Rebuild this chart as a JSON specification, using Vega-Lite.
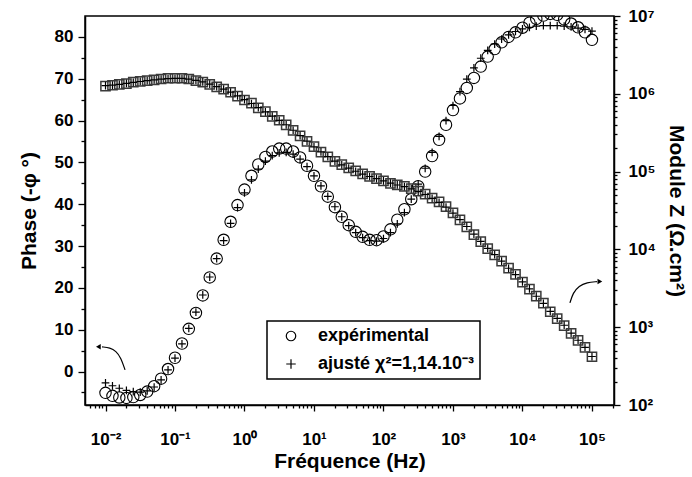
{
  "$schema": "https://vega.github.io/schema/vega-lite/v6.json",
  "width": 529,
  "height": 389,
  "autosize": "none",
  "padding": {"left": 85, "top": 16, "right": 78, "bottom": 72},
  "background": "white",
  "config": {
    "view": {"stroke": "black", "strokeWidth": 1.5},
    "font": "Liberation Sans",
    "axis": {
      "domainColor": "black", "domainWidth": 1.5, "tickColor": "black", "tickWidth": 1.3,
      "labelFont": "Liberation Sans", "labelFontWeight": "bold", "labelFontSize": 17, "labelColor": "black",
      "titleFont": "Liberation Sans", "titleFontWeight": "bold", "titleFontSize": 21, "titleColor": "black",
      "grid": false, "labelOverlap": false, "labelFlush": false, "labelBound": false
    },
    "legend": {"strokeWidth": 1.5}
  },
  "datasets": {
    "bode": [
      {"src":"exp","f":0.01,"ph":-5.1,"z":1259000},
      {"src":"exp","f":0.0126,"ph":-5.8,"z":1288000},
      {"src":"exp","f":0.0158,"ph":-6.2,"z":1318000},
      {"src":"exp","f":0.02,"ph":-6.3,"z":1349000},
      {"src":"exp","f":0.0251,"ph":-6.1,"z":1413000},
      {"src":"exp","f":0.0316,"ph":-5.6,"z":1445000},
      {"src":"exp","f":0.0398,"ph":-4.8,"z":1479000},
      {"src":"exp","f":0.0501,"ph":-3.5,"z":1514000},
      {"src":"exp","f":0.0631,"ph":-1.7,"z":1549000},
      {"src":"exp","f":0.0794,"ph":0.6,"z":1585000},
      {"src":"exp","f":0.1,"ph":3.3,"z":1585000},
      {"src":"exp","f":0.126,"ph":6.7,"z":1585000},
      {"src":"exp","f":0.158,"ph":10.2,"z":1549000},
      {"src":"exp","f":0.2,"ph":14.0,"z":1479000},
      {"src":"exp","f":0.251,"ph":18.2,"z":1413000},
      {"src":"exp","f":0.316,"ph":22.5,"z":1318000},
      {"src":"exp","f":0.398,"ph":27.0,"z":1230000},
      {"src":"exp","f":0.501,"ph":31.5,"z":1148000},
      {"src":"exp","f":0.631,"ph":35.8,"z":1047000},
      {"src":"exp","f":0.794,"ph":39.8,"z":933000},
      {"src":"exp","f":1,"ph":43.5,"z":832000},
      {"src":"exp","f":1.26,"ph":46.8,"z":759000},
      {"src":"exp","f":1.58,"ph":49.5,"z":661000},
      {"src":"exp","f":2,"ph":51.3,"z":589000},
      {"src":"exp","f":2.51,"ph":52.6,"z":513000},
      {"src":"exp","f":3.16,"ph":53.3,"z":457000},
      {"src":"exp","f":3.98,"ph":53.3,"z":398000},
      {"src":"exp","f":5.01,"ph":52.6,"z":339000},
      {"src":"exp","f":6.31,"ph":51.2,"z":288000},
      {"src":"exp","f":7.94,"ph":49.2,"z":245000},
      {"src":"exp","f":10,"ph":46.8,"z":209000},
      {"src":"exp","f":12.6,"ph":44.3,"z":178000},
      {"src":"exp","f":15.8,"ph":41.8,"z":155000},
      {"src":"exp","f":20,"ph":39.3,"z":135000},
      {"src":"exp","f":25.1,"ph":37.0,"z":123000},
      {"src":"exp","f":31.6,"ph":35.0,"z":112000},
      {"src":"exp","f":39.8,"ph":33.4,"z":102000},
      {"src":"exp","f":50.1,"ph":32.2,"z":93300},
      {"src":"exp","f":63.1,"ph":31.5,"z":87100},
      {"src":"exp","f":79.4,"ph":31.4,"z":81300},
      {"src":"exp","f":100,"ph":32.3,"z":75900},
      {"src":"exp","f":126,"ph":34.0,"z":70800},
      {"src":"exp","f":158,"ph":36.3,"z":67600},
      {"src":"exp","f":200,"ph":38.8,"z":64600},
      {"src":"exp","f":251,"ph":41.2,"z":60300},
      {"src":"exp","f":316,"ph":44.3,"z":56200},
      {"src":"exp","f":398,"ph":47.8,"z":51300},
      {"src":"exp","f":501,"ph":51.5,"z":45700},
      {"src":"exp","f":631,"ph":55.4,"z":40700},
      {"src":"exp","f":794,"ph":59.0,"z":35500},
      {"src":"exp","f":1000,"ph":62.5,"z":29500},
      {"src":"exp","f":1260,"ph":65.3,"z":24000},
      {"src":"exp","f":1580,"ph":67.8,"z":19500},
      {"src":"exp","f":2000,"ph":70.2,"z":15500},
      {"src":"exp","f":2510,"ph":72.9,"z":12600},
      {"src":"exp","f":3160,"ph":75.3,"z":10200},
      {"src":"exp","f":3980,"ph":77.1,"z":8510},
      {"src":"exp","f":5010,"ph":78.7,"z":7080},
      {"src":"exp","f":6310,"ph":80.0,"z":5750},
      {"src":"exp","f":7940,"ph":81.1,"z":4790},
      {"src":"exp","f":10000,"ph":82.2,"z":3800},
      {"src":"exp","f":12600,"ph":83.4,"z":3090},
      {"src":"exp","f":15800,"ph":84.3,"z":2510},
      {"src":"exp","f":20000,"ph":85.1,"z":2040},
      {"src":"exp","f":25100,"ph":85.5,"z":1580},
      {"src":"exp","f":31600,"ph":85.3,"z":1290},
      {"src":"exp","f":39800,"ph":84.2,"z":1050},
      {"src":"exp","f":50100,"ph":83.2,"z":832},
      {"src":"exp","f":63100,"ph":82.3,"z":676},
      {"src":"exp","f":79400,"ph":81.1,"z":550},
      {"src":"exp","f":100000,"ph":79.3,"z":417},
      {"src":"fit","f":0.01,"ph":-2.7,"z":1270000},
      {"src":"fit","f":0.0126,"ph":-3.4,"z":1295000},
      {"src":"fit","f":0.0158,"ph":-4.0,"z":1325000},
      {"src":"fit","f":0.02,"ph":-4.5,"z":1360000},
      {"src":"fit","f":0.0251,"ph":-4.8,"z":1400000},
      {"src":"fit","f":0.0316,"ph":-4.9,"z":1440000},
      {"src":"fit","f":0.0398,"ph":-4.6,"z":1480000},
      {"src":"fit","f":0.0501,"ph":-3.7,"z":1510000},
      {"src":"fit","f":0.0631,"ph":-2.0,"z":1540000},
      {"src":"fit","f":0.0794,"ph":0.4,"z":1570000},
      {"src":"fit","f":0.1,"ph":3.2,"z":1580000},
      {"src":"fit","f":0.126,"ph":6.6,"z":1575000},
      {"src":"fit","f":0.158,"ph":10.3,"z":1545000},
      {"src":"fit","f":0.2,"ph":14.2,"z":1490000},
      {"src":"fit","f":0.251,"ph":18.3,"z":1420000},
      {"src":"fit","f":0.316,"ph":22.6,"z":1330000},
      {"src":"fit","f":0.398,"ph":27.0,"z":1240000},
      {"src":"fit","f":0.501,"ph":31.3,"z":1150000},
      {"src":"fit","f":0.631,"ph":35.4,"z":1050000},
      {"src":"fit","f":0.794,"ph":39.2,"z":940000},
      {"src":"fit","f":1,"ph":42.7,"z":840000},
      {"src":"fit","f":1.26,"ph":45.8,"z":750000},
      {"src":"fit","f":1.58,"ph":48.4,"z":665000},
      {"src":"fit","f":2,"ph":50.3,"z":585000},
      {"src":"fit","f":2.51,"ph":51.6,"z":515000},
      {"src":"fit","f":3.16,"ph":52.3,"z":455000},
      {"src":"fit","f":3.98,"ph":52.4,"z":400000},
      {"src":"fit","f":5.01,"ph":52.0,"z":340000},
      {"src":"fit","f":6.31,"ph":50.8,"z":290000},
      {"src":"fit","f":7.94,"ph":49.0,"z":246000},
      {"src":"fit","f":10,"ph":46.8,"z":208000},
      {"src":"fit","f":12.6,"ph":44.4,"z":179000},
      {"src":"fit","f":15.8,"ph":41.9,"z":156000},
      {"src":"fit","f":20,"ph":39.4,"z":136000},
      {"src":"fit","f":25.1,"ph":37.0,"z":122000},
      {"src":"fit","f":31.6,"ph":34.9,"z":111000},
      {"src":"fit","f":39.8,"ph":33.2,"z":101000},
      {"src":"fit","f":50.1,"ph":32.0,"z":93000},
      {"src":"fit","f":63.1,"ph":31.3,"z":86500},
      {"src":"fit","f":79.4,"ph":31.2,"z":81000},
      {"src":"fit","f":100,"ph":31.8,"z":76000},
      {"src":"fit","f":126,"ph":33.2,"z":71200},
      {"src":"fit","f":158,"ph":35.3,"z":67300},
      {"src":"fit","f":200,"ph":38.0,"z":64000},
      {"src":"fit","f":251,"ph":41.2,"z":60000},
      {"src":"fit","f":316,"ph":44.8,"z":55700},
      {"src":"fit","f":398,"ph":48.6,"z":50800},
      {"src":"fit","f":501,"ph":52.4,"z":45300},
      {"src":"fit","f":631,"ph":56.2,"z":40200},
      {"src":"fit","f":794,"ph":60.0,"z":35000},
      {"src":"fit","f":1000,"ph":63.6,"z":29200},
      {"src":"fit","f":1260,"ph":66.9,"z":24100},
      {"src":"fit","f":1580,"ph":69.9,"z":19700},
      {"src":"fit","f":2000,"ph":72.6,"z":15700},
      {"src":"fit","f":2510,"ph":74.9,"z":12700},
      {"src":"fit","f":3160,"ph":76.8,"z":10300},
      {"src":"fit","f":3980,"ph":78.3,"z":8550},
      {"src":"fit","f":5010,"ph":79.5,"z":7050},
      {"src":"fit","f":6310,"ph":80.5,"z":5720},
      {"src":"fit","f":7940,"ph":81.3,"z":4750},
      {"src":"fit","f":10000,"ph":81.9,"z":3820},
      {"src":"fit","f":12600,"ph":82.3,"z":3100},
      {"src":"fit","f":15800,"ph":82.6,"z":2500},
      {"src":"fit","f":20000,"ph":82.7,"z":2030},
      {"src":"fit","f":25100,"ph":82.7,"z":1600},
      {"src":"fit","f":31600,"ph":82.7,"z":1300},
      {"src":"fit","f":39800,"ph":82.6,"z":1060},
      {"src":"fit","f":50100,"ph":82.4,"z":840},
      {"src":"fit","f":63100,"ph":82.1,"z":680},
      {"src":"fit","f":79400,"ph":81.8,"z":552},
      {"src":"fit","f":100000,"ph":81.4,"z":420}
    ],
    "arrows": [
      {"a":"L","f":0.0191,"ph":0.4},
      {"a":"L","f":0.0167,"ph":3.3},
      {"a":"L","f":0.01416,"ph":4.9},
      {"a":"L","f":0.01161,"ph":5.7},
      {"a":"L","f":0.00891,"ph":5.9},
      {"a":"R","f":48200,"ph":16.4},
      {"a":"R","f":53300,"ph":18.8},
      {"a":"R","f":65000,"ph":20.5},
      {"a":"R","f":84700,"ph":21.3},
      {"a":"R","f":118000,"ph":21.5}
    ],
    "heads": [
      {"a":"L","f":0.0079,"ph":5.9},
      {"a":"R","f":130000,"ph":21.5}
    ]
  },
  "data": {"name": "bode"},
  "encoding": {
    "x": {
      "field": "f", "type": "quantitative",
      "scale": {"type": "log", "domain": [0.00507, 207500], "nice": false},
      "axis": {
        "title": "Fréquence (Hz)",
        "values": [0.006,0.007,0.008,0.009,0.01,0.02,0.03,0.04,0.05,0.06,0.07,0.08,0.09,0.1,0.2,0.3,0.4,0.5,0.6,0.7,0.8,0.9,1,2,3,4,5,6,7,8,9,10,20,30,40,50,60,70,80,90,100,200,300,400,500,600,700,800,900,1000,2000,3000,4000,5000,6000,7000,8000,9000,10000,20000,30000,40000,50000,60000,70000,80000,90000,100000,200000],
        "labelExpr": "datum.value==0.01?'10⁻²':datum.value==0.1?'10⁻¹':datum.value==1?'10⁰':datum.value==10?'10¹':datum.value==100?'10²':datum.value==1000?'10³':datum.value==10000?'10⁴':datum.value==100000?'10⁵':''",
        "tickSize": {"condition": {"test": "indexof([0.01,0.1,1,10,100,1000,10000,100000], datum.value) >= 0", "value": 6}, "value": 3},
        "labelPadding": 20,
        "titlePadding": 3
      }
    }
  },
  "layer": [
    {
      "encoding": {
        "y": {
          "field": "ph", "type": "quantitative",
          "scale": {"domain": [-8, 85], "nice": false, "zero": false},
          "axis": {
            "title": "Phase (-φ °)",
            "values": [-5,0,5,10,15,20,25,30,35,40,45,50,55,60,65,70,75,80],
            "labelExpr": "datum.value % 10 == 0 ? '' + datum.value : ''",
            "tickSize": {"condition": {"test": "datum.value % 10 == 0", "value": 7}, "value": 4},
            "labelPadding": 5,
            "titlePadding": 15
          }
        }
      },
      "layer": [
        {
          "mark": {"type": "point", "filled": false, "clip": true, "stroke": "black", "opacity": 1},
          "encoding": {
            "shape": {
              "field": "src", "type": "nominal",
              "scale": {"domain": ["exp", "fit"], "range": ["circle", "M-1,0H1M0,-1V1"]},
              "legend": {
                "orient": "none", "legendX": 182, "legendY": 305,
                "title": null, "strokeColor": "black", "fillColor": "white",
                "padding": 6, "rowPadding": 10, "symbolSize": 90, "symbolStrokeWidth": 1.2,
                "symbolOffset": 9, "labelOffset": 18,
                "labelFont": "Liberation Sans", "labelFontWeight": "bold", "labelFontSize": 18, "labelColor": "black",
                "labelExpr": "datum.value == 'exp' ? 'expérimental' : 'ajusté χ²=1,14.10⁻³'"
              }
            },
            "size": {"condition": {"test": "datum.src === 'exp'", "value": 130}, "value": 60},
            "strokeWidth": {"condition": {"test": "datum.src === 'exp'", "value": 1.1}, "value": 1.2}
          }
        },
        {
          "data": {"name": "arrows"},
          "mark": {"type": "line", "interpolate": "basis", "stroke": "black", "strokeWidth": 1.2},
          "encoding": {"detail": {"field": "a", "type": "nominal"}}
        },
        {
          "data": {"name": "heads"},
          "transform": [{"filter": "datum.a == 'L'"}],
          "mark": {"type": "point", "shape": "triangle-left", "filled": true, "color": "black", "size": 30, "opacity": 1},
          "encoding": {}
        },
        {
          "data": {"name": "heads"},
          "transform": [{"filter": "datum.a == 'R'"}],
          "mark": {"type": "point", "shape": "triangle-right", "filled": true, "color": "black", "size": 30, "opacity": 1},
          "encoding": {}
        }
      ]
    },
    {
      "mark": {"type": "point", "filled": false, "opacity": 1},
      "encoding": {
        "y": {
          "field": "z", "type": "quantitative",
          "scale": {"type": "log", "domain": [100, 10000000], "nice": false},
          "axis": {
            "orient": "right",
            "title": "Module Z (Ω.cm²)",
            "values": [100,200,300,400,500,600,700,800,900,1000,2000,3000,4000,5000,6000,7000,8000,9000,10000,20000,30000,40000,50000,60000,70000,80000,90000,100000,200000,300000,400000,500000,600000,700000,800000,900000,1000000,2000000,3000000,4000000,5000000,6000000,7000000,8000000,9000000,10000000],
            "labelExpr": "datum.value==100?'10²':datum.value==1000?'10³':datum.value==10000?'10⁴':datum.value==100000?'10⁵':datum.value==1000000?'10⁶':datum.value==10000000?'10⁷':''",
            "tickSize": {"condition": {"test": "indexof([100,1000,10000,100000,1000000,10000000], datum.value) >= 0", "value": 6}, "value": 3},
            "labelPadding": 8,
            "titlePadding": 10
          }
        },
        "shape": {"condition": {"test": "datum.src === 'exp'", "value": "square"}, "value": "M-1,0H1M0,-1V1"},
        "stroke": {"condition": {"test": "datum.src === 'exp'", "value": "#3a3a3a"}, "value": "black"},
        "size": {"condition": {"test": "datum.src === 'exp'", "value": 85}, "value": 60},
        "strokeWidth": {"condition": {"test": "datum.src === 'exp'", "value": 1.5}, "value": 1.2}
      }
    }
  ],
  "resolve": {"scale": {"y": "independent"}}
}
